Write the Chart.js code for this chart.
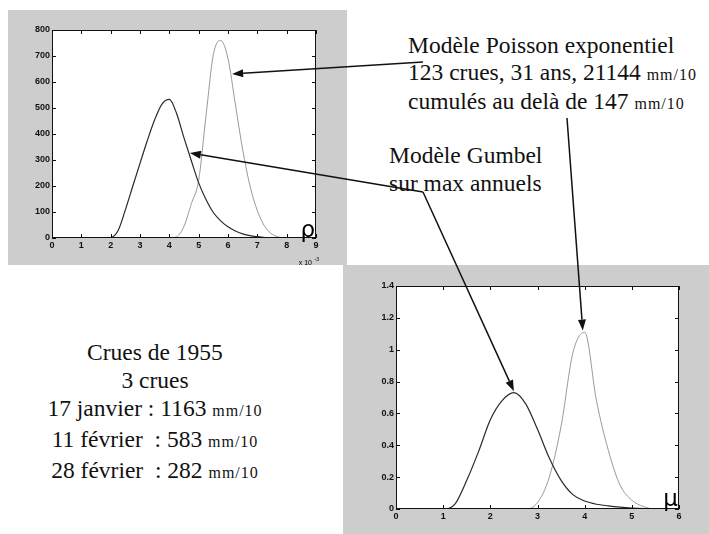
<!DOCTYPE html>
<html>
<head>
<meta charset="utf-8">
<script src="https://cdn.jsdelivr.net/npm/chart.js@4.4.0/dist/chart.umd.min.js"></script>
<style>
body{margin:0;width:709px;height:534px;position:relative;background:#fff;overflow:hidden;font-family:"Liberation Serif","Times New Roman",serif;color:#111}
.box{position:absolute;background:#cdcdcd}
.txt{position:absolute;font-size:23.5px;white-space:nowrap}
.txt small{font-size:16px;letter-spacing:1px}
#arrows{position:absolute;left:0;top:0;pointer-events:none}
</style>
</head>
<body>
<div class="box" style="left:8px;top:10px;width:339px;height:255px"><canvas id="rhoChart"></canvas></div>
<div class="box" style="left:343px;top:265px;width:366px;height:269px"><canvas id="muChart"></canvas></div>

<div class="txt" style="left:408px;top:32px;line-height:27px">Modèle Poisson exponentiel<br>123 crues, 31 ans, 21144 <small>mm/10</small><br>cumulés au delà de 147 <small>mm/10</small></div>
<div class="txt" style="left:389px;top:141px;line-height:28px">Modèle Gumbel<br>sur max annuels</div>
<div class="txt" style="left:35px;top:338px;width:240px;text-align:center;line-height:28px">Crues de 1955<br>3 crues<br>17 janvier : 1163 <small>mm/10</small><br>11 février &nbsp;: 583 <small>mm/10</small><br>28 février &nbsp;: 282 <small>mm/10</small></div>

<canvas id="arrows" width="709" height="534"></canvas>

<script>
// top chart: density of rho (x 1e-3)
const rhoX = [0,0.25,0.5,0.75,1,1.25,1.5,1.75,2,2.25,2.5,2.75,3,3.25,3.5,3.75,4,4.25,4.5,4.75,5,5.25,5.5,5.75,6,6.25,6.5,6.75,7,7.25,7.5,7.75,8,8.25,8.5,8.75,9];
const rhoGumbel = [0,0,0,0,0,0,0,0,2,28,108,198,287,375,455,515,533,478,385,297,212,148,98,66,43,27,16,9,5,2,1,0,0,0,0,0,0];
const rhoPoisson = [0,0,0,0,0,0,0,0,0,0,0,0,0,0,0,0,0,5,45,132,222,470,705,760,690,515,340,200,105,45,15,3,0,0,0,0,0];

// bottom chart: density of mu
const muX = [0,0.25,0.5,0.75,1,1.25,1.5,1.75,2,2.25,2.5,2.75,3,3.25,3.5,3.75,4,4.25,4.5,4.75,5,5.25,5.5,5.75,6];
const muGumbel = [0,0,0,0,0,0.03,0.18,0.36,0.56,0.68,0.73,0.66,0.5,0.32,0.18,0.09,0.05,0.03,0.02,0.012,0.006,0.002,0,0,0];
const muPoisson = [0,0,0,0,0,0,0,0,0,0,0,0,0.04,0.2,0.52,0.98,1.11,0.68,0.37,0.15,0.055,0.015,0,0,0];

// where the annotation arrows point (data coords)
const rhoArrowTips = [[6.14, 631], [4.7, 327]];
const muArrowTips = [[2.5, 0.74], [3.96, 1.12]];

const darkLine = '#2a2a2a';
const lightLine = '#9a9a9a';
const tickFont = {family: '"Liberation Sans", Arial, sans-serif', size: 9, weight: 'bold'};

function pts(xs, ys) { return xs.map((x, i) => ({x: x, y: ys[i]})); }
// matlab style labels: 1 not 1.0
function shortNum(v) { return String(+Number(v).toFixed(1)); }

// matlab-like box with inward ticks + axis symbol
const frameLines = {
  id: 'frameLines',
  beforeDraw(chart) {
    const {ctx, chartArea: a} = chart;
    ctx.save();
    ctx.fillStyle = '#fff';
    ctx.fillRect(a.left, a.top, a.width, a.height);
    ctx.restore();
  },
  afterDraw(chart, args, opts) {
    const {ctx, chartArea: a, scales} = chart;
    ctx.save();
    ctx.strokeStyle = '#111';
    ctx.lineWidth = 1;
    ctx.strokeRect(a.left + 0.5, a.top + 0.5, a.width - 1, a.height - 1);
    ctx.beginPath();
    scales.x.ticks.forEach(t => {
      const p = Math.round(scales.x.getPixelForValue(t.value)) + 0.5;
      ctx.moveTo(p, a.bottom); ctx.lineTo(p, a.bottom - 4);
      ctx.moveTo(p, a.top); ctx.lineTo(p, a.top + 4);
    });
    scales.y.ticks.forEach(t => {
      const p = Math.round(scales.y.getPixelForValue(t.value)) + 0.5;
      ctx.moveTo(a.left, p); ctx.lineTo(a.left + 4, p);
      ctx.moveTo(a.right, p); ctx.lineTo(a.right - 4, p);
    });
    ctx.stroke();
    ctx.fillStyle = '#000';
    ctx.font = opts.symbolSize + 'px "DejaVu Sans", sans-serif';
    ctx.textAlign = 'right';
    ctx.textBaseline = 'alphabetic';
    ctx.fillText(opts.symbol, a.right - 1, a.bottom - opts.symbolLift);
    if (opts.exponent) {
      ctx.font = '7px "Liberation Sans", Arial, sans-serif';
      ctx.textAlign = 'right';
      ctx.fillText('x 10', a.right - 4, a.bottom + 27);
      ctx.font = '5px "Liberation Sans", Arial, sans-serif';
      ctx.fillText('-3', a.right + 3, a.bottom + 23);
    }
    ctx.restore();
  }
};

function makeChart(id, xs, gumbel, poisson, xMax, yMax, yStep, pad, yWidth, xHeight, symbol) {
  return new Chart(document.getElementById(id), {
    type: 'line',
    data: {
      datasets: [
        {label: 'Gumbel', data: pts(xs, gumbel), borderColor: darkLine, borderWidth: 1.2},
        {label: 'Poisson', data: pts(xs, poisson), borderColor: lightLine, borderWidth: 1}
      ]
    },
    options: {
      responsive: true,
      maintainAspectRatio: false,
      animation: false,
      layout: {padding: pad},
      elements: {point: {radius: 0}, line: {cubicInterpolationMode: 'monotone', fill: false}},
      plugins: {
        legend: {display: false},
        tooltip: {enabled: false},
        frameLines: symbol
      },
      scales: {
        x: {
          type: 'linear', min: 0, max: xMax,
          ticks: {stepSize: 1, font: tickFont, color: '#111', padding: 2, maxRotation: 0, callback: shortNum},
          grid: {display: false, drawTicks: false},
          border: {display: false},
          afterFit(s) { s.height = xHeight; }
        },
        y: {
          min: 0, max: yMax,
          ticks: {stepSize: yStep, font: tickFont, color: '#111', padding: 2, callback: shortNum},
          grid: {display: false, drawTicks: false},
          border: {display: false},
          afterFit(s) { s.width = yWidth; }
        }
      }
    },
    plugins: [frameLines]
  });
}

const rhoChart = makeChart('rhoChart', rhoX, rhoGumbel, rhoPoisson, 9, 800, 100,
  {top: 20, right: 31, left: 0, bottom: 0}, 44, 27,
  {symbol: 'ρ', symbolSize: 23, symbolLift: 1, exponent: true});
const muChart = makeChart('muChart', muX, muGumbel, muPoisson, 6, 1.4, 0.2,
  {top: 21, right: 30, left: 0, bottom: 0}, 53, 25,
  {symbol: 'μ', symbolSize: 23, symbolLift: 3, exponent: false});

// annotation arrows from the text to the curves
function tipOf(chart, boxLeft, boxTop, v) {
  return [boxLeft + chart.scales.x.getPixelForValue(v[0]), boxTop + chart.scales.y.getPixelForValue(v[1])];
}
function arrow(ctx, x0, y0, x1, y1) {
  const ang = Math.atan2(y1 - y0, x1 - x0);
  const len = 11, w = 4;
  const bx = x1 - len * Math.cos(ang), by = y1 - len * Math.sin(ang);
  ctx.beginPath();
  ctx.moveTo(x0, y0);
  ctx.lineTo(bx, by);
  ctx.stroke();
  ctx.beginPath();
  ctx.moveTo(x1, y1);
  ctx.lineTo(bx + w * Math.sin(ang), by - w * Math.cos(ang));
  ctx.lineTo(bx - w * Math.sin(ang), by + w * Math.cos(ang));
  ctx.closePath();
  ctx.fill();
}
const actx = document.getElementById('arrows').getContext('2d');
actx.strokeStyle = '#111';
actx.fillStyle = '#111';
actx.lineWidth = 1.5;
const pRho = tipOf(rhoChart, 8, 10, rhoArrowTips[0]);
const gRho = tipOf(rhoChart, 8, 10, rhoArrowTips[1]);
const gMu = tipOf(muChart, 343, 265, muArrowTips[0]);
const pMu = tipOf(muChart, 343, 265, muArrowTips[1]);
arrow(actx, 423, 62, pRho[0], pRho[1]);
arrow(actx, 423, 192, gRho[0], gRho[1]);
arrow(actx, 423, 192, gMu[0], gMu[1]);
arrow(actx, 567, 118, pMu[0], pMu[1]);
</script>
</body>
</html>
